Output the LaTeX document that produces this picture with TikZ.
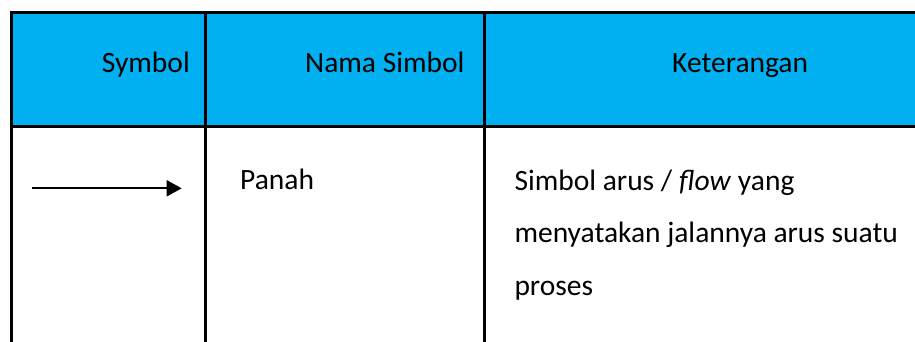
\documentclass[tikz,border=0pt]{standalone}
\usepackage{fontspec}
\setmainfont{Carlito}
\usepackage{tikz}
\usetikzlibrary{arrows.meta}
\definecolor{headblue}{HTML}{00B0F0}
\tikzstyle{cell_text} = [inner sep=0pt, font=\fontsize{29.5}{35}\selectfont]
\tikzstyle{grid_line} = [line width=3pt, line cap=rect]
\tikzstyle{edge_flow} = [line width=1.8pt, -{Triangle[length=15pt,width=16pt]}]

\begin{document}
\begin{tikzpicture}[x=1pt,y=-1pt]
			\useasboundingbox (0,0) rectangle (915,342);
			\fill[headblue] (11.5,12.5) rectangle (915,126.5);
			\draw[grid_line] (915,12.5)--(11.5,12.5)--(11.5,342);
			\draw[grid_line] (11.5,126.5)--(915,126.5);
			\draw[grid_line] (205.5,12.5)--(205.5,342) (484.5,12.5)--(484.5,342);
			\node (H1) at (190,73) [cell_text, anchor=base east] {Symbol};
			\node (H2) at (305,73) [cell_text, anchor=base west] {Nama Simbol};
			\node (H3) at (672,73) [cell_text, anchor=base west] {Keterangan};
			\node (N) at (240,189.3) [cell_text, anchor=base west] {Panah};
			\node (K1) at (514.3,190) [cell_text, anchor=base west] {Simbol arus / \textit{flow} yang};
			\node (K2) at (514.3,242.7) [cell_text, anchor=base west] {menyatakan jalannya arus suatu};
			\node (K3) at (514.3,295) [cell_text, anchor=base west] {proses};
			\coordinate (S) at (31.7,188.3);
			\coordinate (T) at (181.7,188.3);
			\draw[edge_flow] (S)--(T);
		\end{tikzpicture}
\end{document}
